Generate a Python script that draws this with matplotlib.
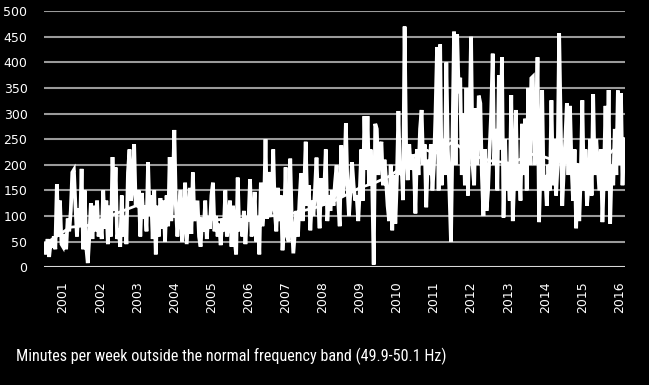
import numpy as np
import matplotlib
matplotlib.use('Agg')
import matplotlib.pyplot as plt

# minutes per week outside 49.9-50.1 Hz (about 24 readings a year)
m2000 = [45, 25, 55, 20, 50, 38, 60, 35, 162, 60, 130, 45]   # second half of 2000
m2001 = [40, 65, 35, 95, 70, 110, 185, 190, 120, 60, 115, 80,
         192, 35, 150, 40, 8, 60, 125, 55, 120, 70, 130, 60]
m2002 = [90, 55, 150, 75, 130, 45, 120, 60, 215, 110, 195, 55,
         75, 40, 140, 60, 100, 45, 185, 230, 130, 160, 240, 120]
m2003 = [135, 150, 60, 145, 95, 120, 70, 205, 100, 140, 55, 150,
         25, 120, 60, 135, 75, 130, 50, 140, 80, 215, 90, 150]
m2004 = [268, 120, 60, 110, 150, 50, 90, 165, 45, 100, 155, 65,
         185, 90, 110, 130, 60, 40, 95, 70, 130, 55, 100, 75]
m2005 = [140, 165, 70, 100, 60, 85, 43, 95, 70, 150, 60, 90,
         130, 40, 120, 55, 25, 175, 70, 95, 60, 110, 45, 100]
m2006 = [90, 172, 60, 95, 147, 50, 100, 25, 165, 80, 110, 250,
         95, 186, 100, 120, 230, 110, 70, 155, 90, 140, 33, 80]
m2007 = [195, 60, 50, 212, 90, 27, 70, 110, 60, 130, 183, 90,
         150, 245, 120, 160, 72, 130, 100, 150, 214, 130, 76, 174]
m2008 = [120, 150, 230, 90, 140, 110, 150, 120, 165, 199, 130, 80,
         238, 140, 175, 281, 160, 100, 150, 205, 160, 130, 140, 90]
m2009 = [150, 230, 130, 295, 190, 295, 160, 230, 170, 5, 280, 270,
         180, 230, 245, 160, 210, 170, 120, 90, 200, 72, 180, 85]
m2010 = [170, 305, 180, 200, 131, 470, 230, 170, 240, 190, 220, 200,
         105, 230, 180, 270, 307, 200, 240, 117, 210, 180, 240, 150]
m2011 = [200, 300, 430, 150, 435, 160, 250, 180, 400, 230, 150, 50,
         250, 460, 200, 455, 340, 370, 180, 300, 160, 350, 140, 280]
m2012 = [450, 200, 160, 310, 200, 335, 320, 180, 100, 230, 110, 150,
         230, 300, 417, 200, 270, 150, 375, 230, 410, 97, 250, 150]
m2013 = [200, 130, 336, 90, 180, 307, 150, 200, 130, 280, 180, 290,
         150, 350, 200, 369, 372, 200, 250, 410, 88, 200, 346, 150]
m2014 = [180, 120, 200, 150, 326, 160, 250, 140, 200, 457, 280, 120,
         190, 250, 320, 180, 315, 200, 130, 230, 76, 200, 90, 180]
m2015 = [326, 150, 230, 120, 160, 250, 140, 338, 180, 250, 200, 150,
         230, 88, 180, 315, 150, 346, 85, 200, 160, 270, 180, 345]
m2016 = [200, 340, 160, 250]

# smoothed average line
trend_year = [2000.49, 2000.78, 2001.19, 2001.73, 2002.0, 2002.54, 2002.97, 2003.35,
              2003.75, 2004.42, 2005.1, 2005.9, 2006.58, 2007.12, 2007.79, 2008.33,
              2008.6, 2009.0, 2009.41, 2009.81, 2010.22, 2010.68, 2011.03, 2011.51,
              2011.97, 2012.51, 2013.05, 2013.72, 2014.26, 2014.94, 2015.48, 2015.82, 2016.15]
trend_val = [45, 58, 78, 82, 92, 108, 120, 106,
             100, 97, 93, 92, 100, 104, 116, 130,
             140, 155, 165, 178, 200, 232, 222, 245,
             220, 208, 203, 222, 208, 200, 203, 228, 248]

years = list(range(2001, 2017))
title = 'Minutes per week outside the normal frequency band (49.9-50.1 Hz)'

yearly = {2000: m2000, 2001: m2001, 2002: m2002, 2003: m2003, 2004: m2004,
          2005: m2005, 2006: m2006, 2007: m2007, 2008: m2008, 2009: m2009,
          2010: m2010, 2011: m2011, 2012: m2012, 2013: m2013, 2014: m2014,
          2015: m2015, 2016: m2016}
x = []
y = []
for yr, vals in yearly.items():
    start = 12 if yr == 2000 else 0
    for i, v in enumerate(vals):
        x.append(yr + (start + i) / 24)
        y.append(v)

fig = plt.figure(figsize=(6.49, 3.85), dpi=100, facecolor='black')
ax = fig.add_axes([0.068, 0.306, 0.895, 0.665])
ax.set_facecolor('black')

for g in range(50, 501, 50):
    ax.axhline(g, color='#9a9a9a', lw=1.5, zorder=1)
ax.axhline(0, color='#d8d8d8', lw=1.5, zorder=1)

ax.plot(x, y, color='white', lw=2.7, solid_joinstyle='miter', zorder=3)
ax.plot(trend_year, trend_val, color='white', lw=2.0, zorder=4)

ax.set_xlim(2000.49, 2016.15)
ax.set_ylim(0, 500)
ax.set_yticks(range(0, 501, 50))
ax.set_xticks(years)
ax.set_xticklabels([str(v) for v in years], rotation=90)
ax.tick_params(colors='white', length=0, labelsize=9)
ax.tick_params(axis='y', pad=12)
ax.tick_params(axis='x', pad=10)
for s in ax.spines.values():
    s.set_visible(False)

fig.text(0.025, 0.074, title, color='white', fontsize=11.6,
         fontstretch='condensed', family=['Roboto Condensed', 'DejaVu Sans'],
         va='center', ha='left')

fig.savefig('out.png', dpi=100, facecolor='black')
